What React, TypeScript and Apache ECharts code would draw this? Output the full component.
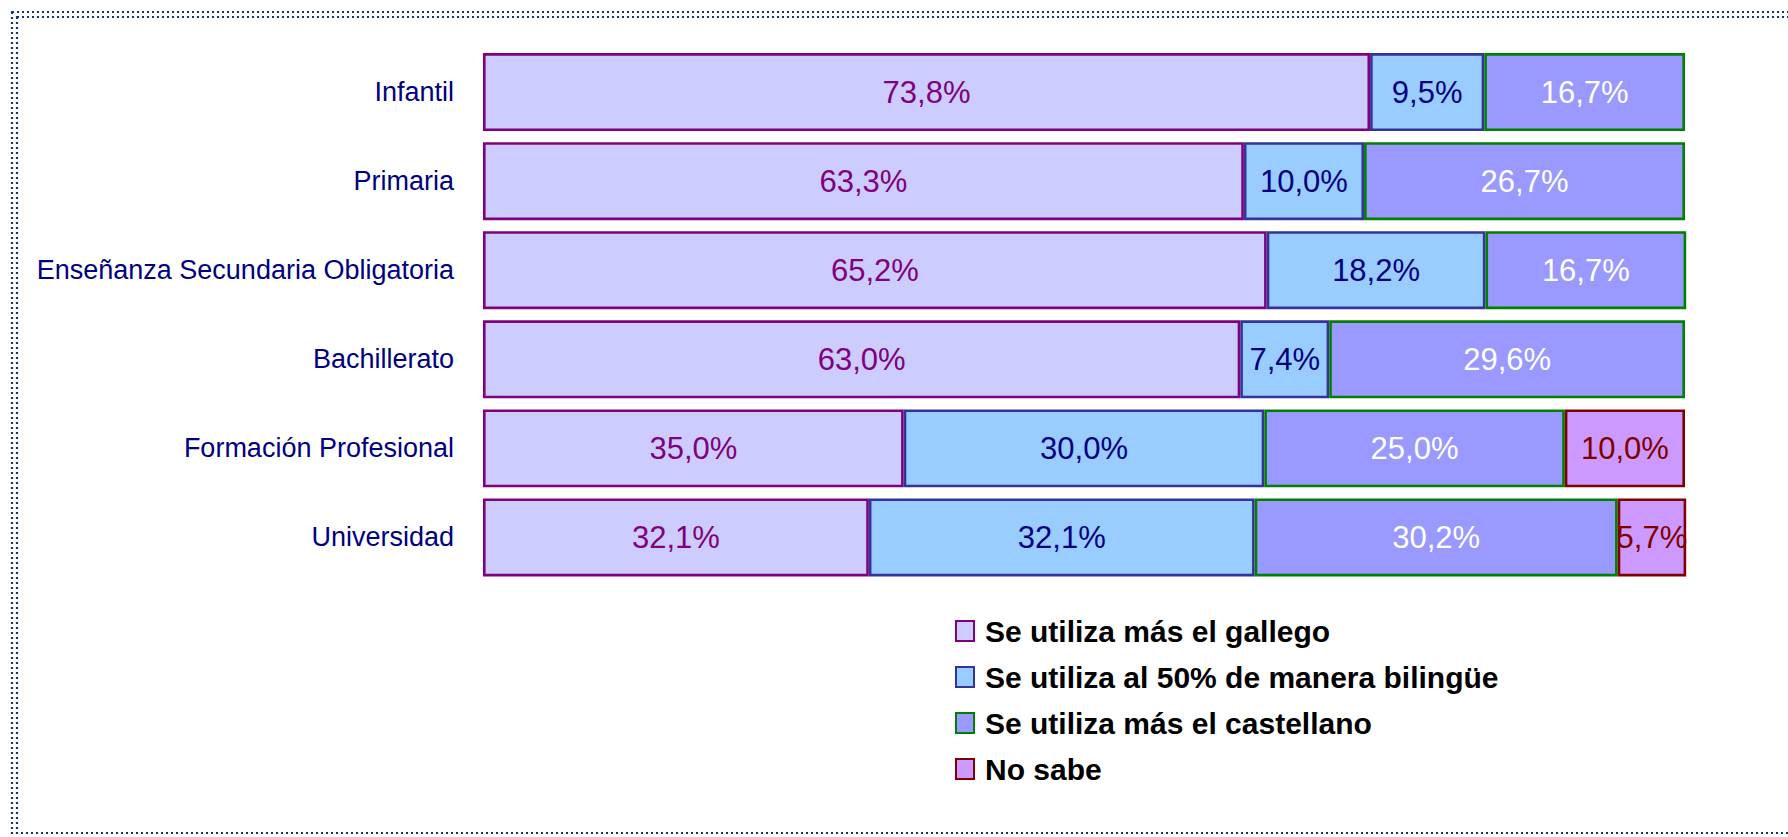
import React, { useEffect, useRef } from "react";
import * as echarts from "echarts";

const categories = [
  "Infantil",
  "Primaria",
  "Enseñanza Secundaria Obligatoria",
  "Bachillerato",
  "Formación Profesional",
  "Universidad",
];

const gallego = [73.8, 63.3, 65.2, 63.0, 35.0, 32.1];
const bilingue = [9.5, 10.0, 18.2, 7.4, 30.0, 32.1];
const castellano = [16.7, 26.7, 16.7, 29.6, 25.0, 30.2];
const noSabe = [null, null, null, null, 10.0, 5.7];

const seriesNames = [
  "Se utiliza más el gallego",
  "Se utiliza al 50% de manera bilingüe",
  "Se utiliza más el castellano",
  "No sabe",
];

const fills = ["#CCCCFF", "#99CCFF", "#9999FF", "#CC99FF"];
const borders = ["#800080", "#333399", "#008000", "#800000"];
const labelColors = ["#800080", "#000080", "#FFFFFF", "#800000"];

export default function App() {
  const ref = useRef<HTMLDivElement>(null);

  useEffect(() => {
    if (!ref.current) return;
    const chart = echarts.init(ref.current, null, { renderer: "svg" });
    const datasets = [gallego, bilingue, castellano, noSabe];
    const fmt = (p: any) =>
      p.value == null || p.value === "-" ? "" : Number(p.value).toFixed(1).replace(".", ",") + "%";

    chart.setOption({
      animation: false,
      backgroundColor: "#FFFFFF",
      grid: { left: 483, right: 103, top: 47.5, bottom: 255, containLabel: false },
      xAxis: { type: "value", min: 0, max: 100, show: false },
      yAxis: {
        type: "category",
        data: categories,
        inverse: true,
        axisLine: { show: false },
        axisTick: { show: false },
        splitLine: { show: false },
        axisLabel: {
          margin: 29,
          color: "#000080",
          fontSize: 27,
          fontFamily: "Liberation Sans, Arial, sans-serif",
        },
      },
      legend: {
        orient: "vertical",
        left: 950,
        top: 611,
        itemWidth: 18,
        itemHeight: 20,
        itemGap: 16,
        icon: "rect",
        textStyle: {
          fontSize: 30,
          fontWeight: "bold",
          color: "#000000",
          lineHeight: 30,
          padding: [0, 0, 0, 6],
          fontFamily: "Liberation Sans, Arial, sans-serif",
        },
        data: seriesNames,
      },
      series: datasets.map((d, i) => ({
        name: seriesNames[i],
        type: "bar",
        stack: "total",
        barWidth: 78,
        data: d.map((v) => (v == null ? "-" : v)),
        itemStyle: { color: fills[i], borderColor: borders[i], borderWidth: 2.6 },
        label: {
          show: true,
          position: "inside",
          formatter: fmt,
          color: labelColors[i],
          fontSize: 31,
          fontFamily: "Liberation Sans, Arial, sans-serif",
        },
        emphasis: { disabled: true },
      })),
      graphic: [
        {
          type: "rect",
          silent: true,
          shape: { x: 12, y: 12, width: 1800, height: 826 },
          style: { fill: "none", stroke: "#123764", lineWidth: 2.2, lineDash: [2, 3] },
        },
        {
          type: "rect",
          silent: true,
          shape: { x: 17, y: 17, width: 1800, height: 816 },
          style: { fill: "none", stroke: "#123764", lineWidth: 2.2, lineDash: [2, 3] },
        },
      ],
    });

    return () => chart.dispose();
  }, []);

  return (
    <div
      ref={ref}
      style={{ position: "fixed", left: 0, top: 0, width: 1788, height: 837, background: "#fff" }}
    />
  );
}
